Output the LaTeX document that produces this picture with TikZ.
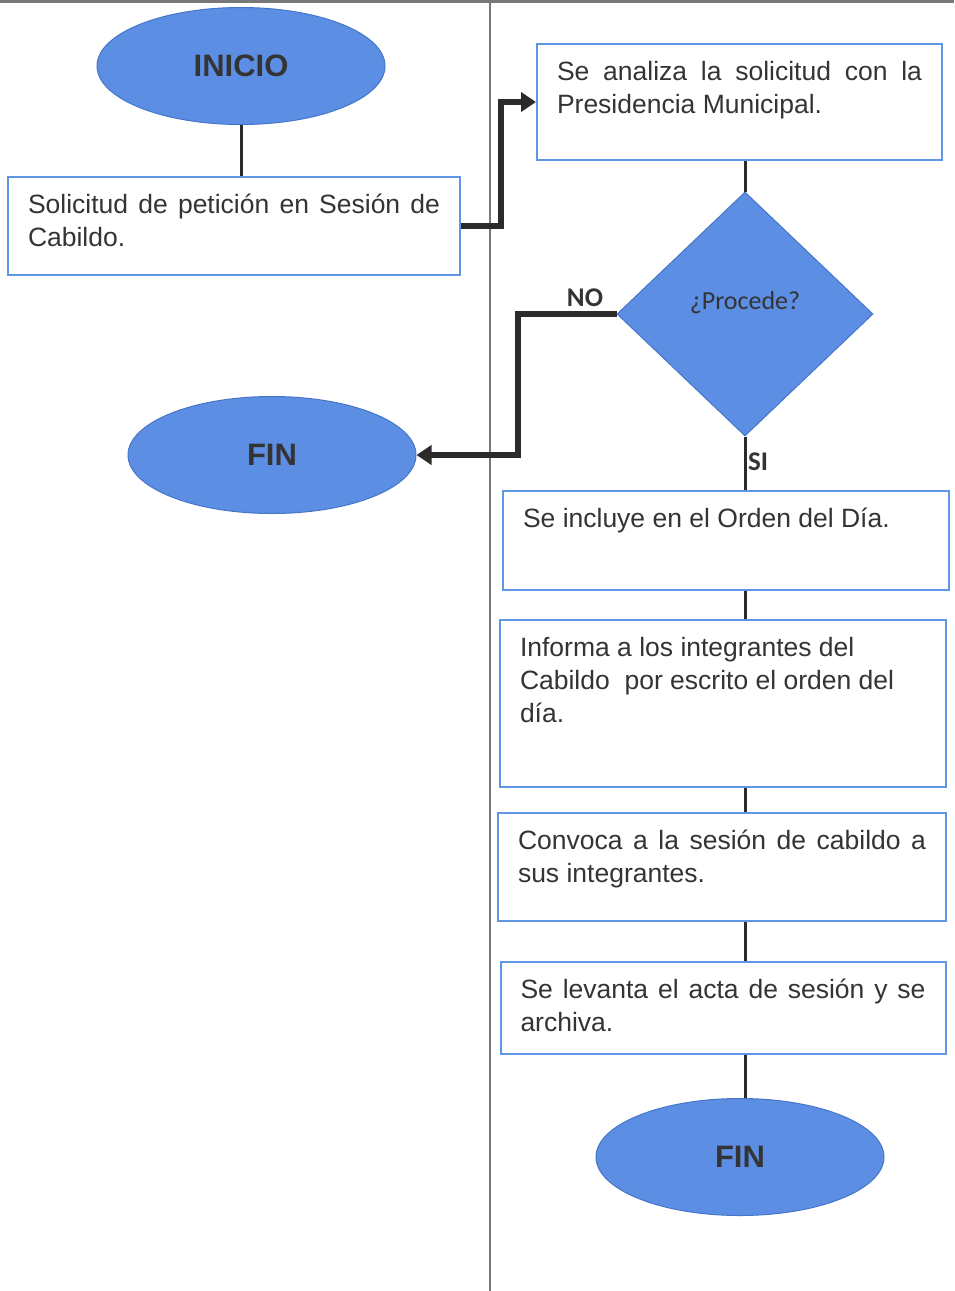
\documentclass[tikz,border=0pt]{standalone}
\usepackage{fontspec}
\setmainfont{Liberation Sans}
\newfontfamily\carlito{Carlito}
\usetikzlibrary{arrows.meta,shapes.geometric}
\definecolor{fillblue}{RGB}{92,142,228}
\definecolor{edgeblue}{RGB}{70,118,200}
\definecolor{boxblue}{RGB}{95,150,230}
\definecolor{txtgray}{RGB}{52,52,52}
\definecolor{linegray}{RGB}{43,43,43}
\definecolor{rulegray}{RGB}{120,120,120}
\begin{document}
\begin{tikzpicture}[x=1pt,y=-1pt,
  box/.style={draw=boxblue, line width=2pt, inner xsep=20pt, inner ysep=13pt,
    font=\fontsize{26.5}{33}\selectfont, text=txtgray},
  term/.style={ellipse, draw=edgeblue, line width=1pt, fill=fillblue,
    minimum width=288pt, minimum height=117pt, inner sep=0pt,
    font=\fontsize{31}{36}\selectfont\bfseries, text=txtgray},
  dec/.style={diamond, draw=edgeblue, line width=1pt, fill=fillblue,
    minimum width=256pt, minimum height=244pt, inner sep=0pt,
    font=\carlito\fontsize{26}{30}\selectfont, text=txtgray},
  conn/.style={draw=linegray, line width=3pt},
  flow/.style={draw=linegray, line width=6pt, -{Triangle[length=15pt,width=19pt]}},
  lbl/.style={font=\carlito\bfseries\fontsize{27}{32}\selectfont, text=txtgray, inner sep=0pt}]
\useasboundingbox (0,0) rectangle (954,1291);
\fill[white] (0,0) rectangle (954,1291);
% frame lines
\draw[rulegray, line width=3pt] (0,1.5) -- (954,1.5);
\draw[rulegray, line width=1.5pt] (490,0) -- (490,1291);
\coordinate (col) at (745,0);
% nodes
\node[term] (ini) at (241,66) {INICIO};
\node[box] (b1) at (234,226) {\parbox[c][72pt][t]{412pt}{\strut\makebox[412pt][s]{Solicitud de petición en Sesión de}\\Cabildo.}};
\node[box] (b2) at (739.5,102) {\parbox[c][90pt][t]{365pt}{\strut\makebox[365pt][s]{Se analiza la solicitud con la}\\Presidencia Municipal.}};
\node[dec] (d) at (745,314) {\raisebox{28pt}{¿Procede?}};
\node[term] (fin1) at (272,455) {FIN};
\node[box] (b3) at (726,540.5) {\parbox[c][73pt][t]{406pt}{\strut Se incluye en el Orden del Día.}};
\node[box] (b4) at (723,703.5) {\parbox[c][141pt][t]{406pt}{\strut Informa a los integrantes del\\Cabildo\ \ por escrito el orden del\\día.}};
\node[box] (b5) at (722,867) {\parbox[c][82pt][t]{408pt}{\strut\makebox[408pt][s]{Convoca a la sesión de cabildo a}\\sus integrantes.}};
\node[box] (b6) at (723,1008) {\parbox[c][66pt][t]{405pt}{\strut\makebox[405pt][s]{Se levanta el acta de sesión y se}\\archiva.}};
\node[term] (fin2) at (740,1157) {FIN};
% connectors
\draw[conn] (ini.south) -- (ini.south |- b1.north);
\draw[flow] (b1.east) -- ++(40,0) |- (b2.west);
\draw[conn] (b2.south -| col) -- (d.north);
\draw[flow] (d.west) -- ++(-99,0) |- (fin1.east);
\node[lbl, anchor=south] (no) at (585,307) {NO};
\draw[conn] (d.south) -- (b3.north -| col);
\node[lbl, anchor=west] (si) at (748,462) {SI};
\draw[conn] (b3.south -| col) -- (b4.north -| col);
\draw[conn] (b4.south -| col) -- (b5.north -| col);
\draw[conn] (b5.south -| col) -- (b6.north -| col);
\draw[conn] (b6.south -| col) -- (fin2.north -| col);
\end{tikzpicture}
\end{document}
